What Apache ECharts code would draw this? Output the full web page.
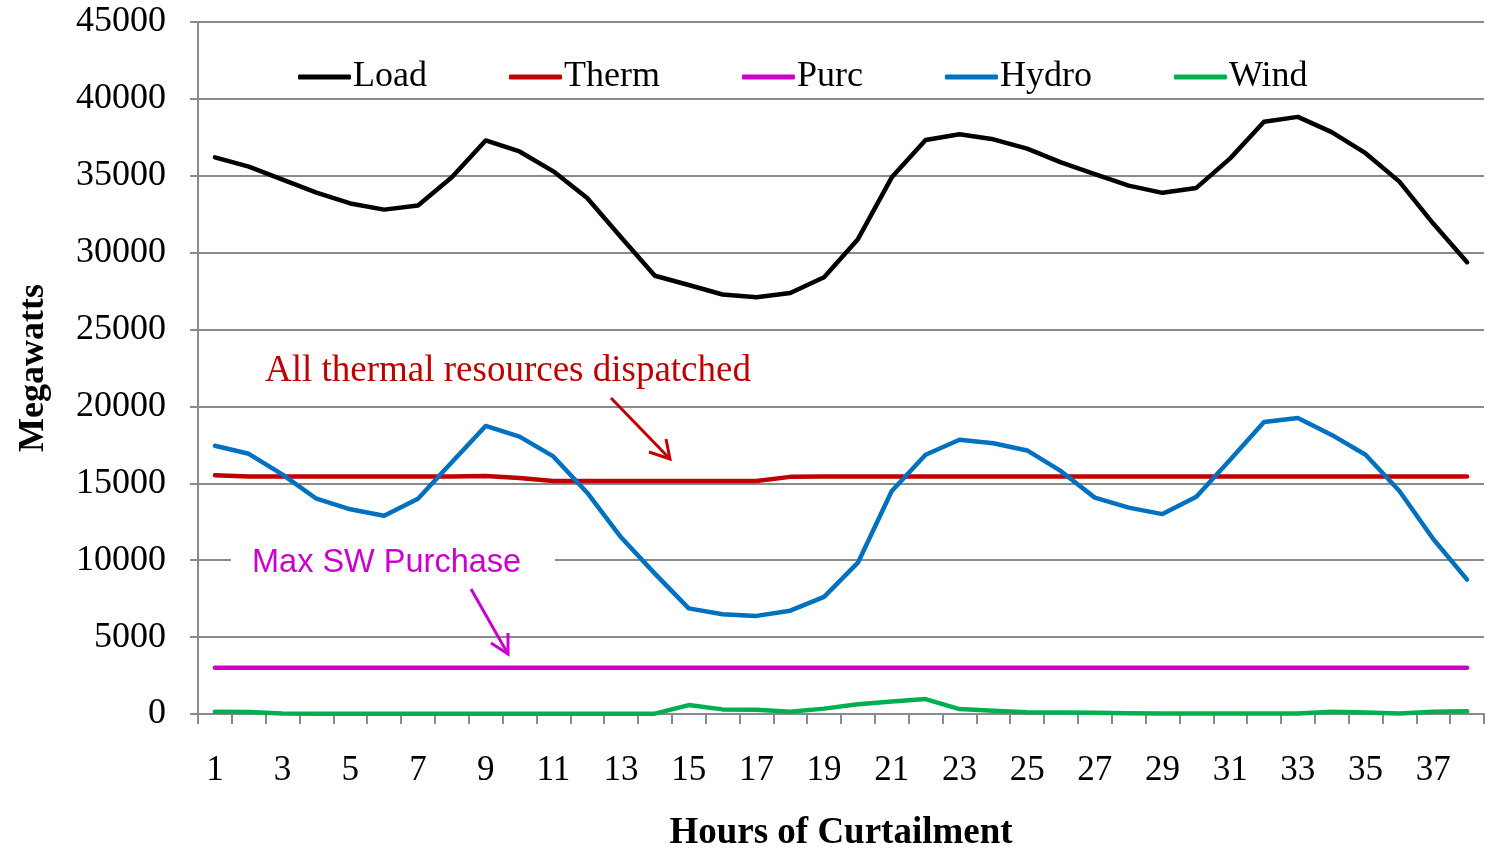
<!DOCTYPE html>
<html>
<head>
<meta charset="utf-8">
<title>Hours of Curtailment</title>
<script src="https://cdn.jsdelivr.net/npm/echarts@6/dist/echarts.min.js"></script>
<style>
  html, body { margin: 0; padding: 0; background: #fff; }
  #chart { width: 1489px; height: 857px; }
</style>
</head>
<body>
<div id="chart"></div>
<script>
// 横轴: 削减小时
const hours = ['1','2','3','4','5','6','7','8','9','10','11','12','13','14','15','16','17','18','19',
               '20','21','22','23','24','25','26','27','28','29','30','31','32','33','34','35','36','37','38'];

// 各序列数值 (MW)
const load = [36200, 35600, 34750, 33900, 33200, 32800, 33070, 34900, 37300, 36580,
              35290, 33550, 31000, 28500, 27900, 27280, 27100, 27380, 28400, 30880,
              34900, 37330, 37700, 37370, 36770, 35870, 35100, 34360, 33890, 34210,
              36130, 38510, 38830, 37840, 36470, 34620, 31890, 29380];
const therm = [15530, 15450, 15450, 15450, 15450, 15450, 15450, 15450, 15470, 15350,
               15150, 15150, 15150, 15150, 15150, 15150, 15150, 15420, 15450, 15450,
               15450, 15450, 15450, 15450, 15450, 15450, 15450, 15450, 15450, 15450,
               15450, 15450, 15450, 15450, 15450, 15450, 15450, 15450];
const purc = [3000, 3000, 3000, 3000, 3000, 3000, 3000, 3000, 3000, 3000,
              3000, 3000, 3000, 3000, 3000, 3000, 3000, 3000, 3000, 3000,
              3000, 3000, 3000, 3000, 3000, 3000, 3000, 3000, 3000, 3000,
              3000, 3000, 3000, 3000, 3000, 3000, 3000, 3000];
const hydro = [17440, 16920, 15570, 14000, 13310, 12890, 14000, 16370, 18730, 18040,
               16750, 14390, 11490, 9130, 6870, 6490, 6380, 6720, 7620, 9840,
               14500, 16860, 17830, 17610, 17140, 15790, 14070, 13420, 13000, 14130,
               16540, 18990, 19250, 18150, 16860, 14500, 11380, 8740];
const wind = [150, 130, 30, 20, 20, 20, 20, 20, 20, 20,
              20, 20, 20, 20, 580, 300, 280, 150, 350, 640,
              820, 970, 320, 215, 110, 100, 80, 50, 30, 30,
              30, 30, 30, 150, 100, 40, 150, 180];

const yTicks = { min: 0, max: 45000, interval: 5000 };

const serif = '"Liberation Serif", "Times New Roman", serif';
const gray = '#8a8a8a';

function lineSeries(name, data, color) {
    return {
        name: name,
        type: 'line',
        data: data,
        symbol: 'none',
        smooth: false,
        lineStyle: { color: color, width: 4.5, cap: 'round', join: 'round' },
        itemStyle: { color: color },
        emphasis: { disabled: true }
    };
}

const chart = echarts.init(document.getElementById('chart'));

const option = {
    animation: false,
    backgroundColor: '#fff',
    grid: { left: 198, right: 5, top: 22, bottom: 137 },
    legend: {
        left: 293,
        top: 52,
        itemWidth: 53,
        itemHeight: 5,
        itemGap: 82,
        icon: 'roundRect',
        textStyle: { fontFamily: serif, fontSize: 36, color: '#000', lineHeight: 40, padding: [0, 0, 0, -3] },
        data: ['Load', 'Therm', 'Purc', 'Hydro', 'Wind']
    },
    xAxis: {
        type: 'category',
        data: hours,
        boundaryGap: true,
        name: 'Hours of Curtailment',
        nameLocation: 'middle',
        nameGap: 101,
        nameTextStyle: { fontFamily: serif, fontSize: 37, fontWeight: 'bold', color: '#000' },
        axisLine: { lineStyle: { color: gray, width: 2 } },
        axisTick: { show: true, interval: 0, length: 10, lineStyle: { color: gray, width: 2 } },
        axisLabel: { interval: 1, margin: 39, fontFamily: serif, fontSize: 35, color: '#000' },
        splitLine: { show: false }
    },
    yAxis: {
        type: 'value',
        min: yTicks.min,
        max: yTicks.max,
        interval: yTicks.interval,
        name: 'Megawatts',
        nameLocation: 'middle',
        nameRotate: 90,
        nameGap: 146,
        nameTextStyle: { fontFamily: serif, fontSize: 36, fontWeight: 'bold', color: '#000' },
        axisLine: { show: true, lineStyle: { color: gray, width: 2 } },
        axisTick: { show: true, length: 8, lineStyle: { color: gray, width: 2 } },
        axisLabel: {
            margin: 32, fontFamily: serif, fontSize: 36, color: '#000',
            formatter: function(v) { return String(v); }
        },
        splitLine: { show: true, lineStyle: { color: gray, width: 2 } }
    },
    series: [
        lineSeries('Load', load, '#000000'),
        lineSeries('Therm', therm, '#C00000'),
        lineSeries('Purc', purc, '#CC00CC'),
        lineSeries('Hydro', hydro, '#0070C0'),
        lineSeries('Wind', wind, '#00B050')
    ],
    // 注释文字和箭头
    graphic: [
        {
            type: 'text', z: 100, x: 265, y: 371,
            style: { text: 'All thermal resources dispatched', font: '37px ' + serif, fill: '#C00000', verticalAlign: 'middle' }
        },
        {
            type: 'polyline', z: 100,
            shape: { points: [[611, 398], [670, 459]] },
            style: { stroke: '#C00000', lineWidth: 3, fill: null }
        },
        {
            type: 'polyline', z: 100,
            shape: { points: [[649, 452], [670, 459], [666, 439]] },
            style: { stroke: '#C00000', lineWidth: 3, fill: null }
        },
        {
            type: 'text', z: 100, x: 231, y: 563,
            style: {
                text: 'Max SW Purchase', font: '32.5px "Liberation Sans", Arial, sans-serif', fill: '#CC00CC',
                verticalAlign: 'middle', backgroundColor: '#fff', padding: [2, 34, 2, 21]
            }
        },
        {
            type: 'polyline', z: 100,
            shape: { points: [[471, 589], [508, 654]] },
            style: { stroke: '#CC00CC', lineWidth: 3, fill: null }
        },
        {
            type: 'polyline', z: 100,
            shape: { points: [[491, 643], [508, 654], [508, 633]] },
            style: { stroke: '#CC00CC', lineWidth: 3, fill: null }
        }
    ]
};

chart.setOption(option);

window.addEventListener('resize', function() {
    chart.resize();
});
</script>
</body>
</html>
